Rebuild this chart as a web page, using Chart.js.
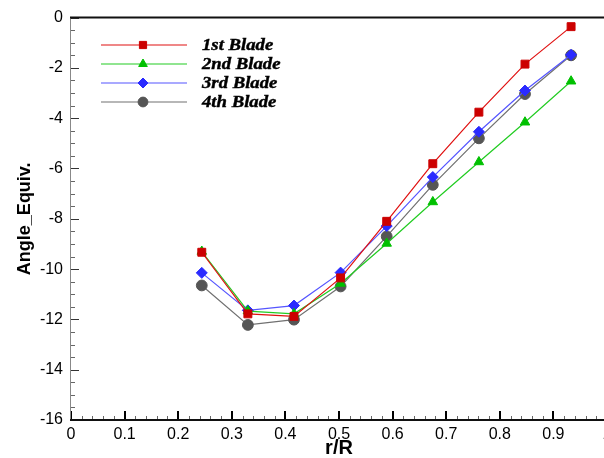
<!DOCTYPE html>
<html>
<head>
<meta charset="utf-8">
<script src="https://cdn.jsdelivr.net/npm/chart.js@4.4.0/dist/chart.umd.min.js"></script>
<style>
html, body { margin: 0; padding: 0; background: #fff; overflow: hidden; }
#wrap { width: 620px; height: 458px; }
</style>
</head>
<body>
<div id="wrap"><canvas id="angle-chart" width="620" height="458"></canvas></div>
<script>
// r/R stations
var radiusRatio = [0.244, 0.330, 0.416, 0.503, 0.589, 0.675, 0.761, 0.847, 0.933];

// Angle_Equiv. per blade
var blade1 = [-9.33, -11.78, -11.88, -10.35, -8.10, -5.81, -3.76, -1.85, -0.36];
var blade2 = [-9.30, -11.67, -11.78, -10.57, -8.98, -7.33, -5.74, -4.16, -2.53];
var blade3 = [-10.15, -11.64, -11.45, -10.14, -8.29, -6.34, -4.54, -2.90, -1.48];
var blade4 = [-10.65, -12.22, -12.01, -10.69, -8.70, -6.65, -4.80, -3.04, -1.50];

var bladeNames = ['1st Blade', '2nd Blade', '3rd Blade', '4th Blade'];

// axes
var xMin = 0, xMax = 1, xStep = 0.1, xMinor = 0.02;
var yMin = -16, yMax = 0, yStep = 2, yMinor = 0.5;

function toPoints(values) {
	var pts = [];
	for (var i = 0; i < values.length; i++) {
		pts.push({ x: radiusRatio[i], y: values[i] });
	}
	return pts;
}

// inner tick marks + frame, like the tecplot output
var frameTicks = {
	id: 'frameTicks',
	beforeDatasetsDraw: function(chart) {
		var ctx = chart.ctx;
		var a = chart.chartArea;
		var xs = chart.scales.x;
		var ys = chart.scales.y;
		ctx.save();
		// x ticks on bottom, pointing up
		var n = Math.round((xMax - xMin) / xMinor);
		for (var i = 0; i <= n; i++) {
			var px = Math.round(xs.getPixelForValue(xMin + i * xMinor));
			var major = (i % 5 == 0);
			ctx.strokeStyle = major ? '#000' : '#666';
			ctx.lineWidth = major ? 2 : 1;
			ctx.beginPath();
			ctx.moveTo(px + (major ? 0 : 0.5), a.bottom);
			ctx.lineTo(px + (major ? 0 : 0.5), a.bottom - (major ? 9 : 4));
			ctx.stroke();
		}
		// y ticks on left, pointing right
		var m = Math.round((yMax - yMin) / yMinor);
		for (var j = 0; j <= m; j++) {
			var py = Math.round(ys.getPixelForValue(yMin + j * yMinor)) + 0.5;
			var majorY = (j % 4 == 0);
			ctx.strokeStyle = majorY ? '#333' : '#666';
			ctx.lineWidth = 1;
			ctx.beginPath();
			ctx.moveTo(a.left, py);
			ctx.lineTo(a.left + (majorY ? 8 : 4), py);
			ctx.stroke();
		}
		// frame
		ctx.strokeStyle = '#888';
		ctx.lineWidth = 1;
		ctx.beginPath();
		ctx.moveTo(a.left - 0.5, a.top);
		ctx.lineTo(a.left - 0.5, a.bottom);
		ctx.stroke();
		ctx.strokeStyle = '#111';
		ctx.lineWidth = 2;
		ctx.beginPath();
		ctx.moveTo(a.left - 1, a.bottom);
		ctx.lineTo(a.right, a.bottom);
		ctx.moveTo(a.left - 1, a.top);
		ctx.lineTo(a.right, a.top);
		ctx.moveTo(a.right, a.top);
		ctx.lineTo(a.right, a.bottom);
		ctx.stroke();
		ctx.restore();
	}
};

// legend inside the plot: line with marker in the middle
var insideLegend = {
	id: 'insideLegend',
	afterDatasetsDraw: function(chart) {
		var ctx = chart.ctx;
		var sets = chart.data.datasets;
		ctx.save();
		for (var i = 0; i < sets.length; i++) {
			var ds = sets[i];
			var y = 45 + i * 19;
			ctx.strokeStyle = ds.borderColor;
			ctx.lineWidth = 1.2;
			ctx.beginPath();
			ctx.moveTo(101, y);
			ctx.lineTo(187, y);
			ctx.stroke();
			ctx.fillStyle = ds.pointBackgroundColor;
			ctx.strokeStyle = ds.pointBorderColor;
			ctx.lineWidth = 1;
			Chart.helpers.drawPoint(ctx, {
				pointStyle: ds.pointStyle,
				radius: ds.pointRadius - 0.5,
				rotation: 0,
				borderWidth: 1
			}, 143, y);
			ctx.save();
			ctx.translate(202, y);
			ctx.scale(1.17, 1);
			ctx.fillStyle = '#000';
			ctx.font = 'italic bold 16px "Liberation Serif", "Times New Roman", serif';
			ctx.textBaseline = 'middle';
			ctx.lineWidth = 0.4;
			ctx.strokeStyle = '#000';
			ctx.fillText(bladeNames[i], 0, 1);
			ctx.strokeText(bladeNames[i], 0, 1);
			ctx.restore();
		}
		ctx.restore();
	}
};

var ctx = document.getElementById('angle-chart').getContext('2d');
var chart = new Chart(ctx, {
	type: 'line',
	data: {
		datasets: [
			{
				label: bladeNames[0],
				data: toPoints(blade1),
				borderColor: '#e01010',
				borderWidth: 1.2,
				pointStyle: 'rect',
				pointRadius: 5.6,
				pointBackgroundColor: '#cc0000',
				pointBorderColor: '#cc0000',
				pointBorderWidth: 1
			},
			{
				label: bladeNames[1],
				data: toPoints(blade2),
				borderColor: '#22cc22',
				borderWidth: 1.2,
				pointStyle: 'triangle',
				pointRadius: 5.5,
				pointBackgroundColor: '#00c000',
				pointBorderColor: '#00c000',
				pointBorderWidth: 1
			},
			{
				label: bladeNames[2],
				data: toPoints(blade3),
				borderColor: '#5555ff',
				borderWidth: 1.2,
				pointStyle: 'rectRot',
				pointRadius: 5.5,
				pointBackgroundColor: '#2a2aff',
				pointBorderColor: '#2a2aff',
				pointBorderWidth: 1
			},
			{
				label: bladeNames[3],
				data: toPoints(blade4),
				borderColor: '#707070',
				borderWidth: 1.2,
				pointStyle: 'circle',
				pointRadius: 5.4,
				pointBackgroundColor: '#555555',
				pointBorderColor: '#555555',
				pointBorderWidth: 1
			}
		]
	},
	options: {
		responsive: false,
		devicePixelRatio: 1,
		animation: false,
		layout: { padding: { top: 16, right: 13, left: 0, bottom: 0 } },
		plugins: {
			legend: { display: false },
			tooltip: { enabled: false }
		},
		scales: {
			x: {
				type: 'linear',
				min: xMin,
				max: xMax,
				grid: { drawOnChartArea: false, drawTicks: false },
				border: { display: false },
				ticks: {
					stepSize: xStep,
					padding: 5,
					color: '#000',
					maxRotation: 0,
					font: { family: '"Liberation Sans", Arial, sans-serif', size: 16 },
					callback: function(v) { return String(Number(v.toFixed(1))); }
				},
				title: {
					display: true,
					text: 'r/R',
					color: '#000',
					padding: { top: 0, bottom: -2 },
					font: { family: '"Liberation Sans", Arial, sans-serif', size: 20, weight: 'bold' }
				},
				afterFit: function(scale) { scale.height = 38; }
			},
			y: {
				min: yMin,
				max: yMax,
				grid: { drawOnChartArea: false, drawTicks: false },
				border: { display: false },
				ticks: {
					stepSize: yStep,
					padding: 8,
					color: '#000',
					font: { family: '"Liberation Sans", Arial, sans-serif', size: 16 }
				},
				title: {
					display: true,
					text: 'Angle_Equiv.',
					color: '#000',
					padding: { top: 14, bottom: 0 },
					font: { family: '"Liberation Sans", Arial, sans-serif', size: 18, weight: 'bold' }
				},
				afterFit: function(scale) { scale.width = 71; }
			}
		}
	},
	plugins: [frameTicks, insideLegend]
});
</script>
</body>
</html>
